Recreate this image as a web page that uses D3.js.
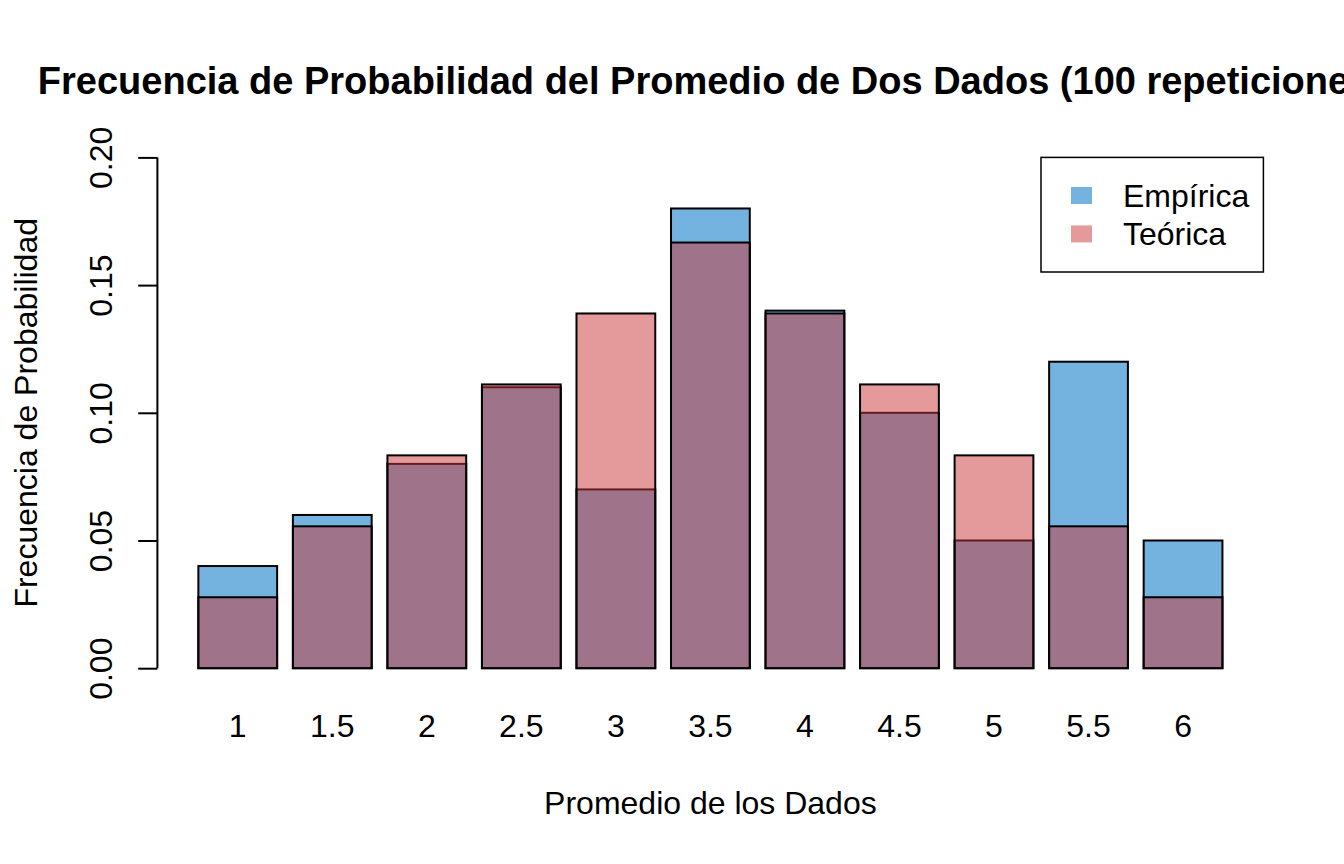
<!DOCTYPE html>
<html>
<head>
<meta charset="utf-8">
<script src="https://cdn.jsdelivr.net/npm/d3@7"></script>
<style>
  body { margin: 0; background: #fff; }
  svg { display: block; font-family: "Liberation Sans", Arial, sans-serif; }
</style>
</head>
<body>
<script>
// data
const categories = ["1", "1.5", "2", "2.5", "3", "3.5", "4", "4.5", "5", "5.5", "6"];
const empirica = [0.04, 0.06, 0.08, 0.11, 0.07, 0.18, 0.14, 0.10, 0.05, 0.12, 0.05];
const teorica = [1/36, 2/36, 3/36, 4/36, 5/36, 6/36, 5/36, 4/36, 3/36, 2/36, 1/36];
const yTicks = [0, 0.05, 0.10, 0.15, 0.20];
const legendLabels = ["Empírica", "Teórica"];

function main() {
  const W = 1344, H = 864;
  // plot region like R's default margins
  const margin = {top: 157.4, right: 80.6, bottom: 195.8, left: 157.4};
  const width = W - margin.left - margin.right,
        height = H - margin.top - margin.bottom;

  const blue = "#74b3e0";
  const red = "rgb(201,53,53)";

  const svg = d3.select("body")
    .append("svg")
      .attr("width", W)
      .attr("height", H);

  const g = svg.append("g")
      .attr("transform", `translate(${margin.left},${margin.top})`);

  // barplot coordinates: width 1, space 0.2, xlim extended 4%
  const n = categories.length;
  const xmin = 0.2, xmax = 1.2 * n;
  const ext = (xmax - xmin) * 0.04;
  const x = d3.scaleLinear()
      .domain([xmin - ext, xmax + ext])
      .range([0, width]);
  const left = i => 0.2 + 1.2 * i;

  const y = d3.scaleLinear()
      .domain([0, 0.2])
      .range([height, 0]);

  // empirical bars
  g.selectAll("rect.emp")
    .data(empirica)
    .join("rect")
      .attr("class", "emp")
      .attr("x", (d, i) => x(left(i)))
      .attr("width", (d, i) => x(left(i) + 1) - x(left(i)))
      .attr("y", d => y(d))
      .attr("height", d => y(0) - y(d))
      .attr("fill", blue)
      .attr("stroke", "#000")
      .attr("stroke-width", 2);

  // theoretical bars on top, half transparent
  g.selectAll("rect.teo")
    .data(teorica)
    .join("rect")
      .attr("class", "teo")
      .attr("x", (d, i) => x(left(i)))
      .attr("width", (d, i) => x(left(i) + 1) - x(left(i)))
      .attr("y", d => y(d))
      .attr("height", d => y(0) - y(d))
      .attr("fill", red)
      .attr("fill-opacity", 0.5)
      .attr("stroke", "#000")
      .attr("stroke-width", 2);

  // category labels (no axis line, like barplot)
  g.selectAll("text.cat")
    .data(categories)
    .join("text")
      .attr("class", "cat")
      .attr("x", (d, i) => x(left(i) + 0.5))
      .attr("y", 737 - margin.top)
      .attr("text-anchor", "middle")
      .attr("font-size", "32px")
      .text(d => d);

  // y axis
  const yAxis = g.append("g")
      .call(d3.axisLeft(y).tickValues(yTicks).tickSize(19.2).tickFormat(d3.format(".2f")));
  yAxis.select(".domain")
      .attr("d", `M0,${y(0)}V${y(0.2)}`)
      .attr("stroke-width", 2);
  yAxis.selectAll(".tick line").attr("stroke-width", 2);
  yAxis.selectAll(".tick text")
      .attr("font-size", "32px")
      .attr("font-family", "Liberation Sans, Arial, sans-serif")
      .attr("fill", "#000")
      .attr("text-anchor", "middle")
      .attr("x", null)
      .attr("dy", null)
      .attr("transform", `translate(${112 - margin.left},0) rotate(-90)`);

  // title (runs past the right edge, as in the original)
  svg.append("text")
      .attr("x", margin.left + width / 2)
      .attr("y", 94)
      .attr("text-anchor", "middle")
      .attr("font-size", "38px")
      .attr("font-weight", "bold")
      .text("Frecuencia de Probabilidad del Promedio de Dos Dados (100 repeticiones)");

  // axis titles
  svg.append("text")
      .attr("x", margin.left + width / 2)
      .attr("y", 814)
      .attr("text-anchor", "middle")
      .attr("font-size", "32px")
      .text("Promedio de los Dados");

  svg.append("text")
      .attr("transform", `translate(37,${margin.top + height / 2}) rotate(-90)`)
      .attr("text-anchor", "middle")
      .attr("font-size", "32px")
      .text("Frecuencia de Probabilidad");

  // legend, top right of plot region
  const lg = svg.append("g");
  lg.append("rect")
      .attr("x", 1041)
      .attr("y", margin.top)
      .attr("width", margin.left + width - 1041)
      .attr("height", 272 - margin.top)
      .attr("fill", "#fff")
      .attr("stroke", "#000")
      .attr("stroke-width", 1.5);
  const legendFill = [blue, "#e49a9a"];
  legendLabels.forEach((lab, i) => {
    const cy = 196 + i * 38.4;
    lg.append("rect")
        .attr("x", 1071)
        .attr("y", cy - 9)
        .attr("width", 21)
        .attr("height", 17)
        .attr("fill", legendFill[i]);
    lg.append("text")
        .attr("x", 1123)
        .attr("y", cy + 11)
        .attr("font-size", "32px")
        .text(lab);
  });
}

main();
</script>
</body>
</html>
